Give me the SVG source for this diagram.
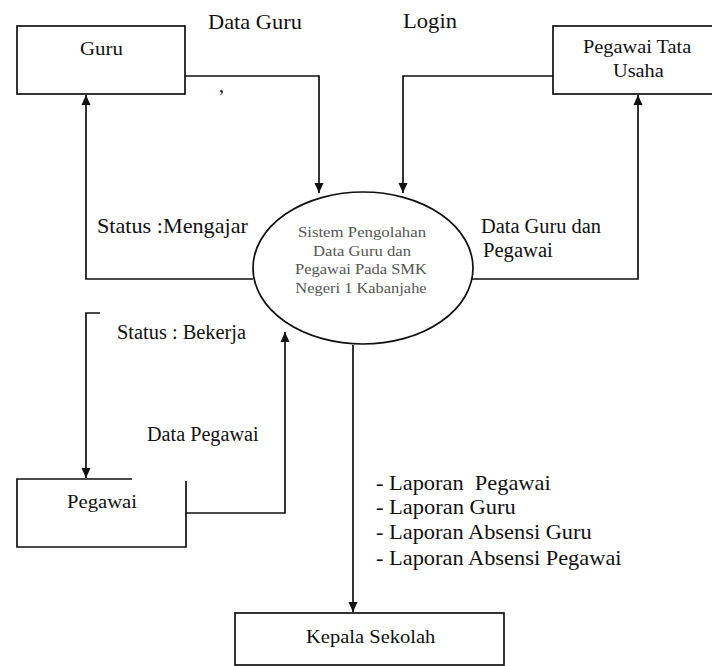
<svg xmlns="http://www.w3.org/2000/svg" width="712" height="666" viewBox="0 0 712 666">
<defs>
<style>
.box{fill:#fff;stroke:#111;stroke-width:1.7}
.ln{fill:none;stroke:#111;stroke-width:1.7}
.lbl{font-size:20px;fill:#111}
.nd{font-size:18px;fill:#111}
.pr{font-size:15px;fill:#555;text-anchor:middle}
</style>
<marker id="ah" markerUnits="userSpaceOnUse" markerWidth="10" markerHeight="12" refX="11" refY="5" orient="auto" viewBox="0 0 11 10">
<path d="M0,0 L11,5 L0,10 z" fill="#111"/>
</marker>
</defs>
<rect width="712" height="666" fill="#fff"/>
<g font-family="Liberation Serif">
<g id="connectors">
<path class="ln" d="M185,76 H319 V193" marker-end="url(#ah)"/>
<path class="ln" d="M553,76 H403 V193" marker-end="url(#ah)"/>
<path class="ln" d="M253,279 H86 V95" marker-end="url(#ah)"/>
<path class="ln" d="M472,279 H638 V95" marker-end="url(#ah)"/>
<path class="ln" d="M100,313 H86 V478" marker-end="url(#ah)"/>
<path class="ln" d="M186,513 H285 V332" marker-end="url(#ah)"/>
<path class="ln" d="M353,345 V612" marker-end="url(#ah)"/>
<text class="lbl" transform="translate(208 29) scale(1.12 1)">Data Guru</text>
<text class="lbl" transform="translate(403 28) scale(1.13 1)">Login</text>
<text class="lbl" x="219" y="92" font-size="12">,</text>
<text class="lbl" transform="translate(97 233) scale(1.11 1)">Status :Mengajar</text>
<text class="lbl" transform="translate(481 233) scale(1.02 1)">Data Guru dan</text>
<text class="lbl" transform="translate(483 257) scale(1.03 1)">Pegawai</text>
<text class="lbl" transform="translate(117 339) scale(1.02 1)">Status : Bekerja</text>
<text class="lbl" transform="translate(147 441) scale(1.01 1)">Data Pegawai</text>
<text class="lbl" transform="translate(376 490) scale(1.12 1)" xml:space="preserve">- Laporan  Pegawai</text>
<text class="lbl" transform="translate(376 514) scale(1.125 1)">- Laporan Guru</text>
<text class="lbl" transform="translate(376 539) scale(1.12 1)">- Laporan Absensi Guru</text>
<text class="lbl" transform="translate(376 565) scale(1.12 1)">- Laporan Absensi Pegawai</text>
</g>
<g id="guru">
<rect class="box" x="17" y="26" width="168" height="68"/>
<text class="nd" transform="translate(80 55) scale(1.16 1)">Guru</text>
</g>
<g id="pegawai-tata-usaha">
<rect class="box" x="553" y="26" width="170" height="68"/>
<text class="nd" transform="translate(583 53) scale(1.13 1)">Pegawai Tata</text>
<text class="nd" transform="translate(613 77) scale(1.13 1)">Usaha</text>
</g>
<g id="proses">
<ellipse class="box" cx="363" cy="268" rx="110" ry="76"/>
<text class="pr" transform="translate(362 237) scale(1.12 1)">Sistem Pengolahan</text>
<text class="pr" transform="translate(362 256) scale(1.11 1)">Data Guru dan</text>
<text class="pr" transform="translate(361 274) scale(1.1 1)">Pegawai Pada SMK</text>
<text class="pr" transform="translate(361 293) scale(1.095 1)">Negeri 1 Kabanjahe</text>
</g>
<g id="pegawai">
<path class="ln" d="M132,479 H17 V547 H186 V481"/>
<text class="nd" transform="translate(67 508) scale(1.15 1)">Pegawai</text>
</g>
<g id="kepala-sekolah">
<rect class="box" x="235" y="613" width="269" height="52"/>
<text class="nd" transform="translate(306 643) scale(1.14 1)">Kepala Sekolah</text>
</g>
</g>
</svg>
